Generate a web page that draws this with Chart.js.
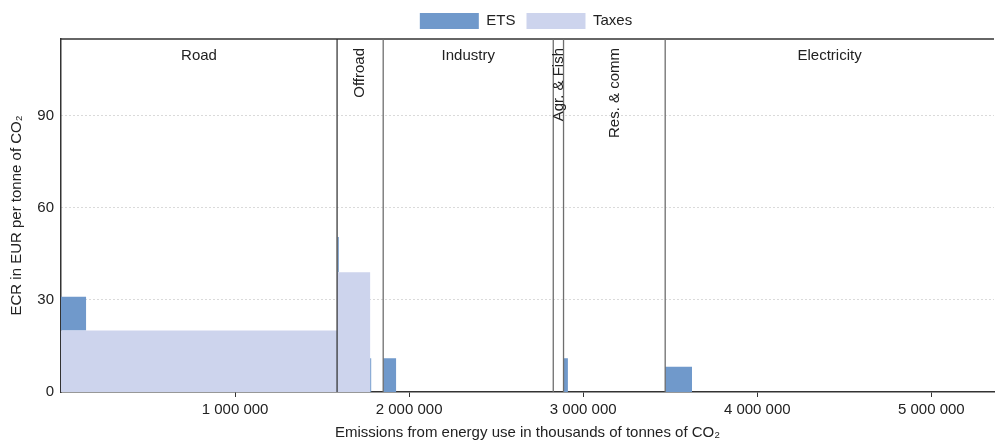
<!DOCTYPE html>
<html>
<head>
<meta charset="utf-8">
<script src="https://cdn.jsdelivr.net/npm/chart.js@4/dist/chart.umd.min.js"></script>
<style>
  html, body { margin: 0; padding: 0; background: #fff; }
  #contenedor { width: 995px; height: 443px; }
</style>
</head>
<body>
<div id="contenedor"><canvas id="graficoEscalones"></canvas></div>
<script>
// Tramos de emisiones (miles de t CO2) y tasa por tramo (EUR/t)
const tramos = [0, 144000, 1586000, 1590000, 1596000, 1776000, 1782000, 1851000, 1925000, 2828000, 2887000, 2912000, 3471000, 3625000, 5360000];
const impuestos = [20, 20, 39, 39, 39, 0, 0, 0, 0, 0, 0, 0, 0, 0];
const ets = [11, 0, 0, 11.5, 0, 11, 0, 11, 0, 0, 11, 0, 8.2, 0];

const sectores = ["Road", "Offroad", "Industry", "Agr. & Fish", "Res. & comm", "Electricity"];
const limitesSectores = [0, 1586000, 1851000, 2828000, 2887000, 3471000, 5360000];
const sectoresVerticales = [false, true, false, true, true, false];

const ticksX = [1000000, 2000000, 3000000, 4000000, 5000000];
const ticksY = [0, 30, 60, 90];

const fuente = "'Liberation Sans', Arial, sans-serif";

// Convierte las tasas por tramo en puntos para una linea escalonada
function puntosEscalon(valores) {
  const puntos = valores.map((v, i) => ({ x: tramos[i], y: v }));
  puntos.push({ x: tramos[tramos.length - 1], y: valores[valores.length - 1] });
  return puntos;
}

function formatoMiles(v) {
  return String(v).replace(/\B(?=(\d{3})+(?!\d))/g, " ");
}

// Lineas verticales y nombres de sectores
const pluginSectores = {
  id: "sectores",
  afterLayout(chart) {
    chart.legend.left += 29;
    chart.legend.right += 29;
  },
  afterDatasetsDraw(chart) {
    const { ctx, chartArea, scales: { x } } = chart;
    ctx.save();
    ctx.strokeStyle = "#333";
    ctx.lineWidth = 1.5;
    ctx.beginPath();
    ctx.moveTo(chartArea.left, chartArea.top);
    ctx.lineTo(chartArea.right, chartArea.top);
    ctx.stroke();

    for (let i = 1; i < limitesSectores.length - 1; i++) {
      const px = x.getPixelForValue(limitesSectores[i]);
      ctx.lineWidth = i === 1 ? 1.2 : 1.3;
      ctx.strokeStyle = i === 1 ? "#2a2a2a" : "#6e6e6e";
      ctx.beginPath();
      ctx.moveTo(px, chartArea.top);
      ctx.lineTo(px, chartArea.bottom);
      ctx.stroke();
    }

    ctx.fillStyle = "#222";
    ctx.font = "15px " + fuente;
    sectores.forEach((nombre, i) => {
      const centro = (x.getPixelForValue(limitesSectores[i]) + x.getPixelForValue(limitesSectores[i + 1])) / 2;
      if (sectoresVerticales[i]) {
        ctx.save();
        ctx.translate(centro, chartArea.top + 9);
        ctx.rotate(-Math.PI / 2);
        ctx.textAlign = "right";
        ctx.textBaseline = "middle";
        ctx.fillText(nombre, 0, 0);
        ctx.restore();
      } else {
        ctx.textAlign = "center";
        ctx.textBaseline = "middle";
        ctx.fillText(nombre, centro, chartArea.top + 17);
      }
    });
    ctx.restore();
  },
};

const ctx = document.getElementById("graficoEscalones").getContext("2d");
const grafico = new Chart(ctx, {
  type: "line",
  data: {
    datasets: [
      {
        label: "Taxes",
        data: puntosEscalon(impuestos),
        stepped: "before",
        borderWidth: 0,
        borderColor: "rgba(0,0,0,0)",
        backgroundColor: "#cdd4ed",
        pointRadius: 0,
        fill: "origin",
      },
      {
        label: "ETS",
        data: puntosEscalon(ets),
        stepped: "before",
        borderWidth: 0,
        borderColor: "rgba(0,0,0,0)",
        backgroundColor: "#7099cb",
        pointRadius: 0,
        fill: "-1",
      },
    ],
  },
  options: {
    responsive: true,
    maintainAspectRatio: false,
    animation: false,
    layout: { padding: { top: 2, right: 1, left: 0, bottom: 0 } },
    plugins: {
      tooltip: { enabled: false },
      legend: {
        position: "top",
        reverse: true,
        labels: {
          boxWidth: 59,
          boxHeight: 16,
          padding: 11,
          color: "#222",
          font: { size: 15, family: fuente },
        },
      },
    },
    scales: {
      x: {
        type: "linear",
        min: 0,
        max: 5360000,
        afterBuildTicks: (escala) => {
          escala.ticks = ticksX.map((v) => ({ value: v }));
        },
        afterFit: (escala) => {
          escala.height = 51;
        },
        ticks: {
          color: "#222",
          padding: 4,
          maxRotation: 0,
          font: { size: 15, family: fuente },
          callback: (v) => formatoMiles(v),
        },
        grid: { drawOnChartArea: false, drawTicks: true, tickLength: 5, tickColor: "#333" },
        border: { color: "#333", width: 1.5 },
        title: {
          display: true,
          text: "Emissions from energy use in thousands of tonnes of CO₂",
          color: "#222",
          font: { size: 15, family: fuente },
          padding: { top: 0, bottom: 1 },
        },
      },
      y: {
        stacked: true,
        min: 0,
        max: 115,
        afterBuildTicks: (escala) => {
          escala.ticks = ticksY.map((v) => ({ value: v }));
        },
        afterFit: (escala) => {
          escala.width = 61;
        },
        ticks: {
          color: "#222",
          padding: 7,
          font: { size: 15, family: fuente },
        },
        grid: {
          drawTicks: false,
          color: (c) => (c.tick && c.tick.value === 0 ? "rgba(0,0,0,0)" : "#b5b5b5"),
        },
        border: { color: "#333", width: 1.5, dash: [1, 3] },
        title: {
          display: true,
          text: "ECR in EUR per tonne of CO₂",
          color: "#222",
          font: { size: 15, family: fuente },
          padding: { top: 8, bottom: 0 },
        },
      },
    },
  },
  plugins: [pluginSectores],
});
</script>
</body>
</html>
